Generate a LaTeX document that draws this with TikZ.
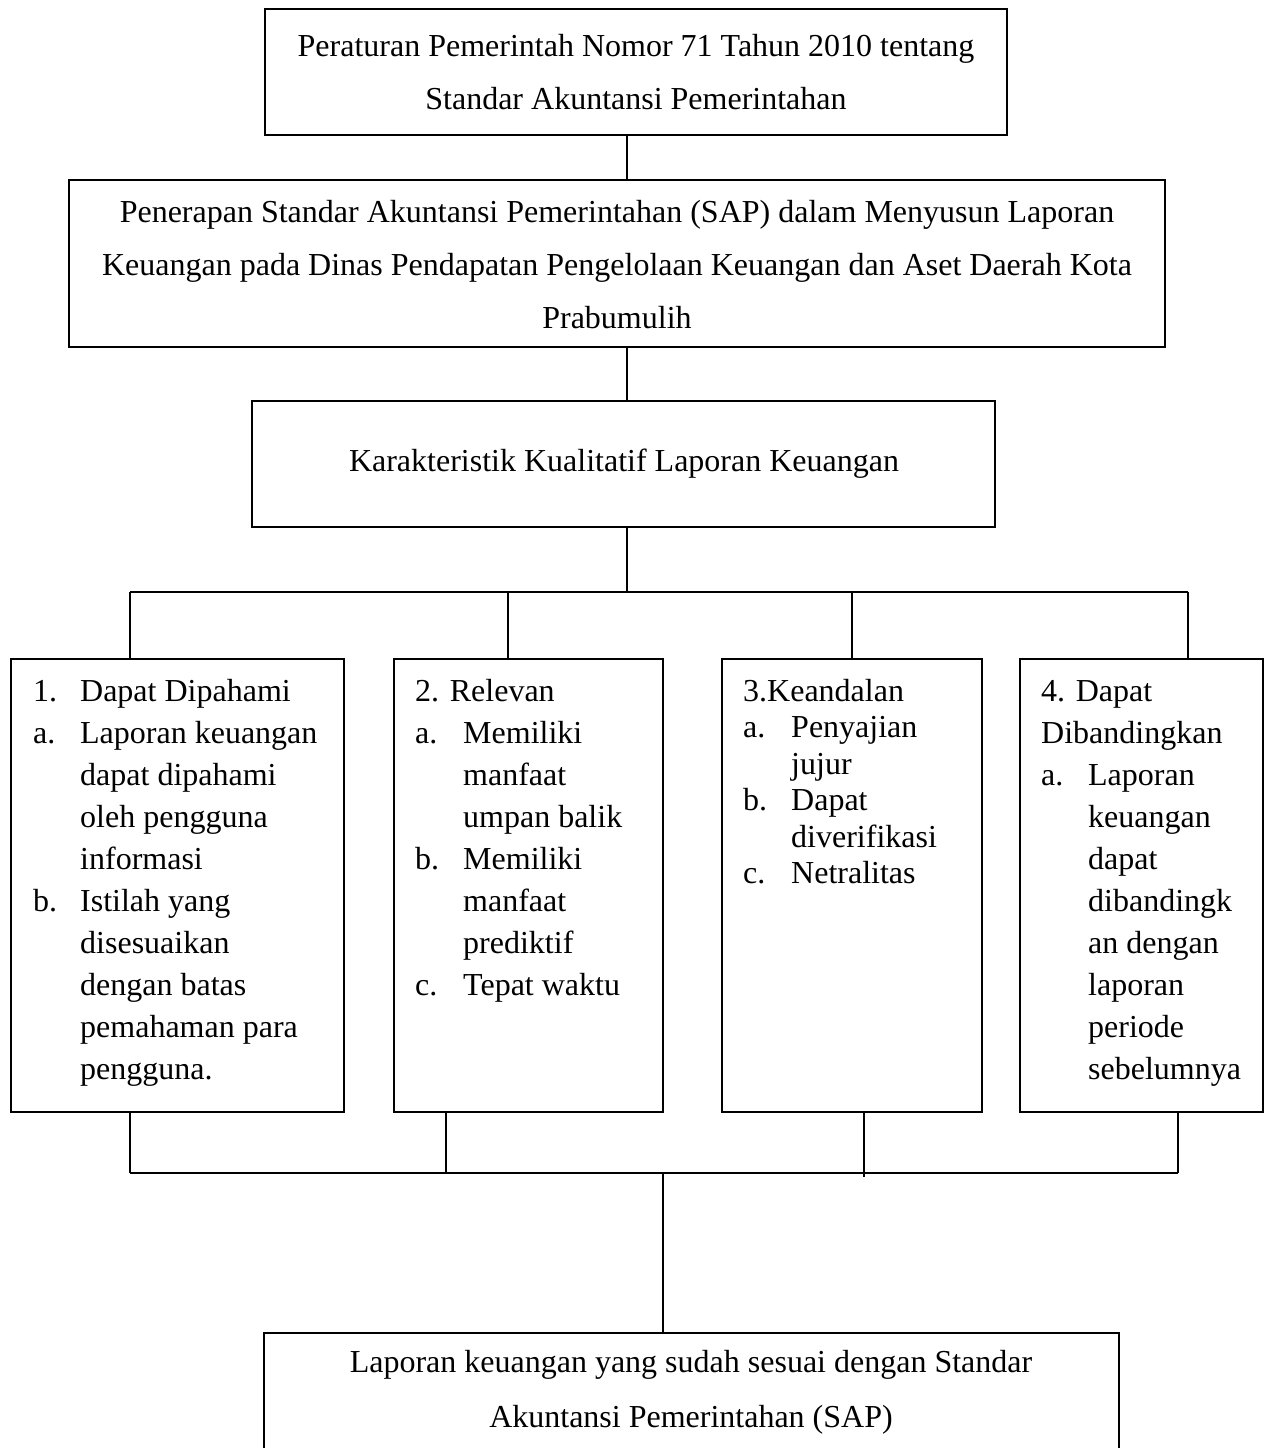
\documentclass[tikz,border=0pt]{standalone}
\usepackage{fontspec}
\setmainfont{Liberation Serif}
\usetikzlibrary{fit}
\newcommand{\lb}[2][47pt]{\makebox[#1][l]{#2}}
\newcommand{\ind}[1][47pt]{\hspace*{#1}}
\tikzset{
  frame/.style={draw, line width=1.4pt, inner sep=0pt},
  ctxt/.style={inner sep=0pt, align=center, font=\fontsize{32}{53}\selectfont},
  lst/.style={inner sep=0pt, anchor=base west},
  conn/.style={line width=1.4pt}
}
\begin{document}
\begin{tikzpicture}[x=1pt,y=-1pt]
\useasboundingbox (0,0) rectangle (1265,1448);
\clip (0,0) rectangle (1265,1448);
% frames
\node[frame, fit={(265,9)(1007,135)}] (b1) {};
\node[frame, fit={(69,180)(1165,347)}] (b2) {};
\node[frame, fit={(252,401)(995,527)}] (b3) {};
\node[frame, fit={(11,659)(344,1112)}] (bA) {};
\node[frame, fit={(394,659)(663,1112)}] (bB) {};
\node[frame, fit={(722,659)(982,1112)}] (bC) {};
\node[frame, fit={(1020,659)(1263,1112)}] (bD) {};
\node[frame, fit={(264,1333)(1119,1470)}] (bE) {};
% centered texts
\node[ctxt] (t1) at (636,72) {Peraturan Pemerintah Nomor 71 Tahun 2010 tentang\\Standar Akuntansi Pemerintahan};
\node[ctxt] (t2) at (617,265) {Penerapan Standar Akuntansi Pemerintahan (SAP) dalam Menyusun Laporan\\Keuangan pada Dinas Pendapatan Pengelolaan Keuangan dan Aset Daerah Kota\\Prabumulih};
\node[ctxt] (t3) at (624,464) {Karakteristik Kualitatif Laporan Keuangan};
\node[lst, anchor=base] (tE) at (691,1372) {\begin{minipage}[t]{850pt}\centering\fontsize{32}{55}\selectfont
Laporan keuangan yang sudah sesuai dengan Standar\\Akuntansi Pemerintahan (SAP)\end{minipage}};
% list texts
\node[lst] (tA) at (33,701) {\begin{minipage}[t]{305pt}\raggedright\fontsize{32}{42}\selectfont
\lb{1.}Dapat Dipahami\\
\lb{a.}Laporan keuangan\\
\ind dapat dipahami\\
\ind oleh pengguna\\
\ind informasi\\
\lb{b.}Istilah yang\\
\ind disesuaikan\\
\ind dengan batas\\
\ind pemahaman para\\
\ind pengguna.\end{minipage}};
\node[lst] (tB) at (415,701) {\begin{minipage}[t]{245pt}\raggedright\fontsize{32}{42}\selectfont
2. Relevan\\
\lb[48pt]{a.}Memiliki\\
\ind[48pt]manfaat\\
\ind[48pt]umpan balik\\
\lb[48pt]{b.}Memiliki\\
\ind[48pt]manfaat\\
\ind[48pt]prediktif\\
\lb[48pt]{c.}Tepat waktu\end{minipage}};
\node[lst] (tC) at (743,701) {\begin{minipage}[t]{235pt}\raggedright\fontsize{32}{36.5}\selectfont
3.Keandalan\\
\lb[48pt]{a.}Penyajian\\
\ind[48pt]jujur\\
\lb[48pt]{b.}Dapat\\
\ind[48pt]diverifikasi\\
\lb[48pt]{c.}Netralitas\end{minipage}};
\node[lst] (tD) at (1041,701) {\begin{minipage}[t]{220pt}\raggedright\fontsize{32}{42}\selectfont
4. Dapat\\
Dibandingkan\\
\lb{a.}Laporan\\
\ind keuangan\\
\ind dapat\\
\ind dibandingk\\
\ind an dengan\\
\ind laporan\\
\ind periode\\
\ind sebelumnya\end{minipage}};
% junction coordinates
\coordinate (m1) at (627,100);
\coordinate (hA) at (130,592);
\coordinate (hB) at (508,592);
\coordinate (hC) at (852,592);
\coordinate (hD) at (1188,592);
\coordinate (hM) at (627,592);
\coordinate (lA) at (130,1173);
\coordinate (lB) at (446,1173);
\coordinate (lC) at (864,1177);
\coordinate (lD) at (1178,1173);
\coordinate (lM) at (663,1173);
% connectors
\draw[conn] (b1.south -| m1) -- (b2.north -| m1);
\draw[conn] (b2.south -| m1) -- (b3.north -| m1);
\draw[conn] (b3.south -| m1) -- (hM);
\draw[conn] (hA) -- (hD);
\draw[conn] (hA) -- (bA.north -| hA);
\draw[conn] (hB) -- (bB.north -| hB);
\draw[conn] (hC) -- (bC.north -| hC);
\draw[conn] (hD) -- (bD.north -| hD);
\draw[conn] (bA.south -| lA) -- (lA);
\draw[conn] (bB.south -| lB) -- (lB);
\draw[conn] (bC.south -| lC) -- (lC);
\draw[conn] (bD.south -| lD) -- (lD);
\draw[conn] (lA) -- (lD);
\draw[conn] (lM) -- (bE.north -| lM);
\end{tikzpicture}
\end{document}
